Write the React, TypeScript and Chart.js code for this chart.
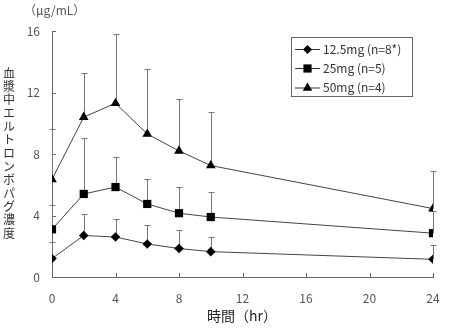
import React, { useEffect, useRef } from "react";
import { Chart, registerables } from "chart.js";
Chart.register(...registerables);

const hours = [0, 2, 4, 6, 8, 10, 24];
const mean12_5 = [1.2, 2.7, 2.6, 2.15, 1.85, 1.65, 1.15];
const sd12_5 = [1.1, 1.4, 1.15, 1.2, 1.2, 0.95, 0.9];
const mean25 = [3.1, 5.4, 5.85, 4.75, 4.15, 3.9, 2.85];
const sd25 = [1.6, 3.65, 1.95, 1.65, 1.7, 1.6, 1.45];
const mean50 = [6.35, 10.4, 11.3, 9.3, 8.2, 7.25, 4.45];
const sd50 = [3.25, 2.9, 4.5, 4.2, 3.4, 3.45, 2.45];
const seriesLabels = ["12.5mg (n=8*)", "25mg (n=5)", "50mg (n=4)"];
const pointStyles = ["rectRot", "rect", "triangle"];
const xTicks = [0, 4, 8, 12, 16, 20, 24];
const yTicks = [0, 4, 8, 12, 16];
const yTitle = "血漿中エルトロンボパグ濃度";
const unitLabel = "（μg/mL）";
const xTitle = "時間（hr）";

const FONT = "'Noto Sans CJK JP', 'Noto Sans', sans-serif";
const AXIS = "#666";
const TEXT = "#555";

function marker(ctx: CanvasRenderingContext2D, style: string, x: number, y: number, r: number) {
  ctx.beginPath();
  if (style === "rectRot") {
    ctx.moveTo(x - r, y); ctx.lineTo(x, y - r); ctx.lineTo(x + r, y); ctx.lineTo(x, y + r);
  } else if (style === "rect") {
    const s = r * Math.SQRT1_2;
    ctx.rect(x - s, y - s, 2 * s, 2 * s);
  } else {
    for (let i = 0; i < 3; i++) {
      const a = -Math.PI / 2 + (i * 2 * Math.PI) / 3;
      const px = x + Math.cos(a) * r, py = y + Math.sin(a) * r;
      if (i === 0) ctx.moveTo(px, py); else ctx.lineTo(px, py);
    }
  }
  ctx.closePath();
  ctx.fill();
}

const extras = {
  id: "extras",
  beforeDatasetsDraw(chart: any) {
    const ctx = chart.ctx as CanvasRenderingContext2D;
    const xs = chart.scales.x, ys = chart.scales.y;
    ctx.save();
    // inward tick marks
    ctx.strokeStyle = AXIS;
    ctx.lineWidth = 1;
    ctx.beginPath();
    xTicks.forEach((v) => {
      const px = Math.round(xs.getPixelForValue(v)) + 0.5;
      ctx.moveTo(px, ys.bottom); ctx.lineTo(px, ys.bottom - 4);
    });
    yTicks.forEach((v) => {
      const py = Math.round(ys.getPixelForValue(v)) + 0.5;
      ctx.moveTo(xs.left, py); ctx.lineTo(xs.left + 4, py);
    });
    ctx.stroke();
    // error bars (upper SD)
    ctx.strokeStyle = "#777";
    const means = [mean12_5, mean25, mean50];
    const sds = [sd12_5, sd25, sd50];
    ctx.beginPath();
    means.forEach((m, si) => {
      m.forEach((v, i) => {
        const px = Math.round(xs.getPixelForValue(hours[i])) + 0.5;
        const py0 = ys.getPixelForValue(v);
        const py1 = Math.round(ys.getPixelForValue(v + sds[si][i])) + 0.5;
        ctx.moveTo(px, py0); ctx.lineTo(px, py1);
        ctx.moveTo(px - 3, py1); ctx.lineTo(px + 3, py1);
      });
    });
    ctx.stroke();
    ctx.restore();
  },
  afterDraw(chart: any) {
    const ctx = chart.ctx as CanvasRenderingContext2D;
    const xs = chart.scales.x;
    ctx.save();
    ctx.fillStyle = "#333";
    // vertical y title
    ctx.font = `12px ${FONT}`;
    ctx.textAlign = "center";
    ctx.textBaseline = "middle";
    Array.from(yTitle).forEach((ch, i) => {
      ctx.fillText(ch, 9, 73 + i * 13.35);
    });
    // unit label
    ctx.fillStyle = TEXT;
    ctx.textAlign = "left";
    ctx.fillText(unitLabel, 24, 10);
    // x title
    ctx.fillStyle = "#222";
    ctx.font = `14px ${FONT}`;
    ctx.textAlign = "center";
    ctx.fillText(xTitle, 242, 316);
    // legend
    ctx.strokeStyle = AXIS;
    ctx.lineWidth = 1;
    ctx.strokeRect(291.5, 37.5, 121, 59);
    const rowY = [49, 68, 87.5];
    const radii = [4.5, 5.8, 5.5];
    ctx.font = `12px ${FONT}`;
    ctx.textBaseline = "middle";
    ctx.textAlign = "left";
    seriesLabels.forEach((lab, i) => {
      const y = rowY[i];
      ctx.strokeStyle = "#333";
      ctx.beginPath();
      ctx.moveTo(295, y + 0.5); ctx.lineTo(320, y + 0.5);
      ctx.stroke();
      ctx.fillStyle = "#000";
      marker(ctx, pointStyles[i], 307.5, y + 0.5, radii[i]);
      ctx.fillStyle = "#333";
      ctx.fillText(lab, 323, y);
    });
    ctx.restore();
  },
};

export default function App() {
  const ref = useRef<HTMLCanvasElement>(null);
  useEffect(() => {
    const means = [mean12_5, mean25, mean50];
    const radii = [4.8, 5.8, 5.6];
    const chart = new Chart(ref.current!, {
      type: "line",
      data: {
        datasets: means.map((m, i) => ({
          label: seriesLabels[i],
          data: m.map((v, j) => ({ x: hours[j], y: v })),
          borderColor: "#444",
          borderWidth: 1,
          backgroundColor: "#000",
          pointStyle: pointStyles[i] as any,
          pointRadius: radii[i],
          pointBorderWidth: 0,
          pointBackgroundColor: "#000",
          tension: 0,
        })),
      },
      options: {
        responsive: false,
        animation: false,
        layout: { padding: { top: 31, right: 31, left: 0, bottom: 0 } },
        plugins: { legend: { display: false }, tooltip: { enabled: false } },
        scales: {
          x: {
            type: "linear",
            min: 0,
            max: 24,
            afterBuildTicks: (s: any) => { s.ticks = xTicks.map((v) => ({ value: v })); },
            afterFit: (s: any) => { s.height = 52; },
            grid: { display: false, drawTicks: false },
            border: { display: true, color: AXIS, width: 1 },
            ticks: { color: TEXT, font: { family: FONT, size: 12 }, padding: 14, maxRotation: 0, autoSkip: false },
          },
          y: {
            type: "linear",
            min: 0,
            max: 16,
            afterBuildTicks: (s: any) => { s.ticks = yTicks.map((v) => ({ value: v })); },
            afterFit: (s: any) => { s.width = 52; },
            grid: { display: false, drawTicks: false },
            border: { display: true, color: AXIS, width: 1 },
            ticks: { color: TEXT, font: { family: FONT, size: 12 }, padding: 12 },
          },
        },
      },
      plugins: [extras],
    });
    return () => chart.destroy();
  }, []);
  return (
    <div style={{ position: "absolute", left: 0, top: 0, width: 464, height: 329, background: "#fff" }}>
      <canvas ref={ref} width={464} height={329} style={{ display: "block" }} />
    </div>
  );
}
